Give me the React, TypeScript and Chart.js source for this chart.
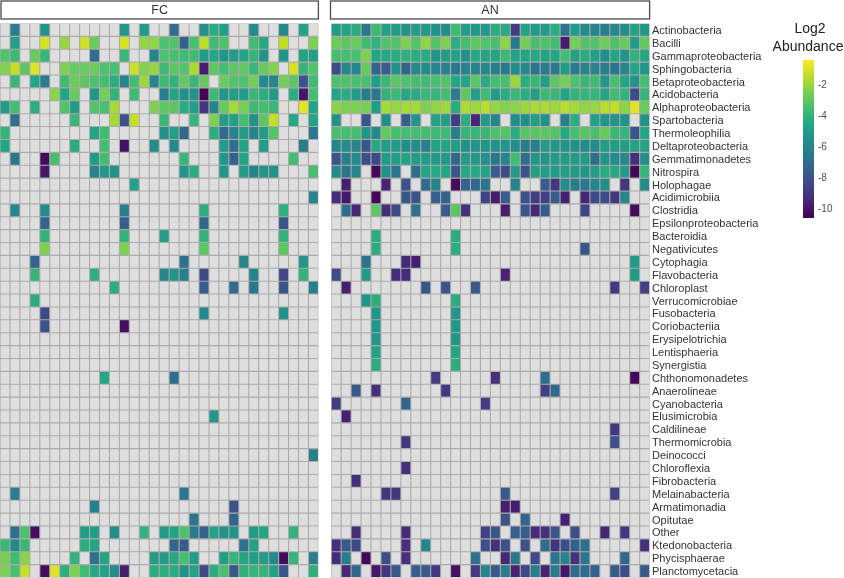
import React, { useEffect, useRef } from "react";
import { Chart, registerables } from "chart.js";

Chart.register(...registerables);

const categories = [
  "Actinobacteria", "Bacilli", "Gammaproteobacteria", "Sphingobacteria", "Betaproteobacteria", "Acidobacteria",
  "Alphaproteobacteria", "Spartobacteria", "Thermoleophilia", "Deltaproteobacteria", "Gemmatimonadetes", "Nitrospira",
  "Holophagae", "Acidimicrobiia", "Clostridia", "Epsilonproteobacteria", "Bacteroidia", "Negativicutes", "Cytophagia",
  "Flavobacteria", "Chloroplast", "Verrucomicrobiae", "Fusobacteria", "Coriobacteriia", "Erysipelotrichia",
  "Lentisphaeria", "Synergistia", "Chthonomonadetes", "Anaerolineae", "Cyanobacteria", "Elusimicrobia", "Caldilineae",
  "Thermomicrobia", "Deinococci", "Chloroflexia", "Fibrobacteria", "Melainabacteria", "Armatimonadia", "Opitutae",
  "Other", "Ktedonobacteria", "Phycisphaerae", "Planctomycetacia",
];

const columnCount = 32;
const panels = ["FC", "AN"];
const legendTicks = [-2, -4, -6, -8, -10];
const legendRange = [-10.58, -0.39];

const _ = null;

// Each row maps a column number to a log2 abundance; columns that are missing are empty cells.
const fcValues: Record<number, number>[] = [
  { 1: -6.3, 4: -5.3, 12: -5.2, 14: -5, 17: -7, 20: -5.5, 21: -4.2, 22: -4.8, 25: -5.7, 28: -5.8, 30: -4.7 },
  { 1: -4.8, 4: -1, 6: -2, 8: -1.1, 9: -2.7, 12: -1, 14: -2.1, 15: -2.1, 16: -3.3, 17: -3.2, 18: -7.5, 19: -3.4, 20: -1.5, 21: -3.6, 22: -3.3, 25: -3.6, 26: -4.4, 28: -1.4, 31: -2.4 },
  { 0: -3.2, 1: -3.7, 3: -2.8, 4: -3.8, 9: -7, 12: -3.8, 15: -6, 16: -3.3, 17: -3.4, 18: -3.6, 19: -3.6, 20: -5, 21: -4.5, 22: -5.2, 23: -5, 24: -4.5, 25: -3.9, 26: -5.3, 28: -5.3, 30: -4.6, 31: -4.8 },
  { 0: -2.3, 1: -1.3, 2: -3, 3: -0.9, 6: -2.4, 7: -2.8, 8: -2.8, 9: -2.7, 10: -3.3, 11: -3.4, 13: -1.2, 14: -2.3, 15: -2, 16: -3.7, 17: -3, 18: -3.2, 19: -1.7, 20: -9.8, 21: -3, 22: -3.5, 23: -3, 24: -2.9, 25: -3.8, 26: -2.8, 27: -2.3, 29: -1, 30: -3.9, 31: -3.2 },
  { 1: -3.8, 3: -4.5, 4: -6.3, 6: -3.6, 7: -2.7, 8: -3, 9: -3.3, 10: -3.5, 11: -4.2, 12: -6, 13: -3.5, 14: -1.9, 15: -5.9, 16: -3.7, 17: -4, 18: -2.9, 19: -3.8, 20: -2.8, 22: -2.7, 23: -3.2, 24: -3.3, 25: -2.6, 26: -5.7, 27: -6, 28: -2.6, 29: -3, 30: -8, 31: -3.6 },
  { 5: -2.2, 6: -4.6, 7: -2.8, 9: -5.2, 10: -2.6, 11: -4, 13: -3.6, 16: -6.3, 17: -4.7, 18: -5.5, 19: -5.4, 20: -10.5, 21: -3.7, 22: -5.2, 23: -4.9, 24: -5, 25: -3.8, 26: -4.2, 27: -5.1, 29: -4.2, 30: -10, 31: -3.5 },
  { 0: -5, 1: -3.5, 3: -4.2, 6: -3.2, 7: -5, 9: -3.2, 10: -3.4, 11: -1.8, 15: -2.4, 16: -3, 17: -3, 18: -4.3, 19: -4.8, 20: -9, 21: -6, 22: -2.8, 23: -1.8, 24: -2.5, 25: -3.7, 26: -3.5, 27: -3.8, 30: -0.8, 31: -4.6 },
  { 1: -6.8, 7: -3.8, 11: -1.8, 12: -8, 13: -1.3, 16: -3.8, 19: -3.9, 21: -2.4, 22: -5, 23: -4.8, 24: -3.5, 25: -5.4, 26: -3, 27: -1.3, 29: -4.4, 31: -4.6 },
  { 0: -4, 9: -4.6, 10: -3.6, 16: -5.5, 17: -4.8, 18: -7.2, 21: -4.2, 22: -7, 23: -6, 24: -5, 25: -6, 26: -5, 27: -3.2, 31: -6.5 },
  { 0: -4.6, 7: -4.3, 10: -3.5, 12: -10.1, 15: -5.6, 17: -5.8, 22: -5, 23: -7, 24: -4.6, 26: -5, 30: -6.3 },
  { 1: -6.6, 4: -10.3, 5: -3.4, 9: -5, 10: -3.5, 18: -3.8, 22: -5.2, 23: -7.4, 24: -4.6, 29: -3.5 },
  { 4: -9.9, 9: -6, 10: -5.2, 11: -5.4, 18: -5.3, 19: -4.3, 22: -5.3, 24: -5, 25: -6, 26: -5.2, 27: -5.4, 31: -3.4 },
  { 13: -4.7 },
  { 31: -6 },
  { 1: -5.8, 4: -5.7, 12: -6.2, 20: -4.2, 28: -4.1 },
  { 4: -7.2, 12: -7.5, 20: -7.2, 28: -7.8 },
  { 4: -4, 12: -4, 16: -4.9, 20: -4, 28: -4 },
  { 4: -2.4, 12: -2.4, 20: -3, 28: -3 },
  { 3: -7.3, 18: -6.8, 24: -5.9, 30: -5.2 },
  { 3: -3.9, 9: -4.1, 16: -6, 17: -5.2, 18: -6.2, 20: -8.3, 25: -6, 28: -8.4, 30: -4 },
  { 11: -4.2, 20: -7.6, 23: -7, 25: -6.5, 28: -7.9, 31: -6.2 },
  { 3: -4.3 },
  { 4: -8.4, 20: -5.8, 28: -5.5 },
  { 4: -8, 12: -10.2 },
  {},
  {},
  {},
  { 10: -4.5, 17: -7 },
  {},
  {},
  { 21: -5.2 },
  {},
  {},
  { 31: -6.2 },
  {},
  {},
  { 1: -6.3, 18: -6.6 },
  { 9: -6.2, 23: -8 },
  { 19: -6.6, 23: -7.4 },
  { 1: -6.8, 2: -3.3, 3: -10.2, 8: -4.9, 9: -4.8, 11: -5.6, 14: -4, 16: -5, 17: -4.6, 18: -3.3, 19: -6.4, 20: -7.4, 21: -4.6, 22: -5.4, 23: -5.4, 25: -5, 26: -4.5, 29: -4 },
  { 0: -3.8, 1: -5.8, 2: -3.8, 8: -4.2, 9: -4.6, 17: -7.2, 18: -7.6, 24: -6.8, 25: -4.7 },
  { 0: -2.5, 1: -3.6, 2: -2.2, 7: -4, 9: -6.8, 10: -4.6, 15: -4.9, 16: -4.9, 17: -4.4, 18: -3.4, 19: -4.9, 22: -4.9, 23: -3.9, 24: -4.6, 25: -5, 26: -5, 27: -5.8, 28: -10.3, 29: -3.9, 31: -6.3 },
  { 0: -2.4, 1: -3.4, 2: -1.3, 4: -10.3, 5: -0.9, 6: -4.2, 7: -2.4, 8: -3.6, 9: -4.4, 10: -4.7, 11: -5.6, 12: -9.8, 15: -4.2, 16: -4.2, 17: -4.3, 18: -5.4, 19: -4.6, 20: -8.4, 21: -4.3, 22: -3.4, 23: -7.7, 24: -4.1, 25: -3.9, 26: -3.9, 27: -4.7, 28: -7.9, 31: -4.1 },
];

const anValues: (Record<number, number> | (number | null)[])[] = [
  [-5, -4.7, -4.3, -6.5, -3.7, -4.7, -5, -5.4, -4.9, -5, -5.5, -5.7, -3.6, -5, -5.2, -5.1, -4.2, -4.3, -8.8, -4.6, -5, -5, -4.3, -6.7, -5, -5.7, -6, -6.2, -5.8, -5.6, -4.6, -5.2],
  [-2.7, -3, -2.8, -3.6, -4, -3.2, -3.2, -2.4, -3.2, -2.1, -3.2, -2.4, -4.2, -3.5, -3, -3.2, -3.4, -2.2, -6.5, -2.6, -3.4, -3.3, -3.5, -9.8, -2.6, -3.2, -3.2, -2.7, -3.3, -2.8, -5, -2.9],
  [-3.5, -3.5, -3.4, -2.4, -4.6, -4.4, -4.3, -4.1, -4.2, -4.3, -5.3, -5, -4.7, -5.5, -4.4, -4.6, -4.6, -3.7, -4.7, -4.6, -4.4, -4.7, -4.5, -3.5, -4.7, -4.3, -4.8, -5.7, -4.5, -5.3, -4, -4.5],
  [-8.2, -5.8, -5.9, -2.8, -7.3, -7.6, -5.5, -7.3, -5.8, -5.7, -5.9, -5.9, -6.5, -6, -6, -5.8, -6.2, -6.5, -5.6, -5.8, -6.6, -6.4, -6.5, -5, -6.4, -6, -6, -6.2, -6.6, -5.9, -4.5, -5.2],
  [-3.3, -3.3, -3.4, -3.4, -4.8, -3.8, -3, -3.3, -3.5, -3.6, -3.4, -3.2, -4.5, -4.5, -3, -4.3, -3.5, -3.4, -1.9, -4.2, -3.8, -4.8, -3, -2.5, -3.3, -3.8, -3.6, -5.2, -3.4, -4.6, -5.3, -3.4],
  [-4.5, -4.3, -5, -6.3, -6.5, -4, -3.7, -4.4, -4.3, -3.8, -3.9, -3.5, -6.4, -3, -4.8, -3.6, -5, -4.2, -3.8, -4.2, -4.8, -3.7, -3.8, -4.6, -4, -3.9, -3.9, -4.5, -3.6, -4, -8.3, -3.9],
  [-2.2, -2.4, -2.4, -2.5, -5, -1.8, -2, -1.8, -1.8, -2.4, -2.1, -1.9, -4.3, -1.7, -1.9, -1.5, -2, -2.3, -2.2, -1.9, -1.7, -1.7, -1.9, -1.5, -1.8, -2.1, -2, -1.5, -1.4, -2.2, -0.8, -2.8],
  [-5.4, _, _, -8, _, -5.6, _, -7.6, -5.3, _, -4.7, -4.9, -8.8, -4.2, -9.5, -5, -6, _, -5.6, -5.6, -4.9, -5.4, _, -6.2, -4.3, _, -4.8, -5.3, -5.4, -5.4, _, -5.4],
  [-3.4, -3.5, -3.5, -5.2, -5.8, -2.9, -3.5, -3.5, -3.5, -3.5, -3.7, -3.6, -6.3, -3.9, -3.9, -3.8, -3.3, -3.2, -4.3, -3.1, -3.1, -3, -3.2, -4.4, -3.4, -3.1, -3.4, -2.8, -3.8, -3.9, -7.8, -4.5],
  [-5.9, -5.6, -6, -7.9, -4.4, -5, -5, -5.6, -5.6, -6.2, -4.7, -4.7, -4.9, -5.5, -5.3, -5.3, -5.5, -5.3, -5.7, -6.4, -6.2, -5, -5.2, -5.4, -5.5, -5.7, -5.7, -5, -4.9, -4.9, -4.7, -4.7],
  [-7.9, -6.2, -5.7, -8.2, -8.4, -5, -5, -4.7, -4.9, -5, -5.1, -5.1, -7.2, -5, -5.1, -5.5, -6.6, -6, -3.6, -7, -5.2, -5.3, -5, -5, -5, -5, -7, -5.3, -5.7, -5.8, -9.2, -5.6],
  [-5.8, -6.6, -6, _, -10.4, -5.5, -6.6, _, -7, -4.6, -4.4, -4.5, -7.9, -4.4, -4.4, -4.6, -7.6, -8.2, -5, -8, -4.8, -4.8, -5, -4.8, -5.1, -5.2, -4.8, -4.3, -4.4, -5, -10.5, -3.9],
  [_, -9.7, _, _, _, -9.6, _, -8, _, -7, -6, _, -10.3, -7.4, -7.2, -6.6, _, _, -6, _, _, -7.6, -9, -5.7, -6.4, -6.6, -5.9, -5.6, _, -9, _, -5.7],
  { 0: -9.3, 1: -9.9, 4: -10.4, 7: -7.8, 8: -7.9, 10: -7.5, 11: -7.3, 15: -8.6, 16: -9.8, 17: -7.6, 19: -8, 20: -8.8, 21: -8.7, 22: -7.6, 23: -9.7, 25: -9.5, 26: -8.4, 27: -8.2, 28: -9, 29: -5.8 },
  { 1: -6.9, 2: -9.5, 4: -3, 5: -9.3, 6: -8.4, 8: -6.8, 11: -7.6, 12: -3, 13: -9.2, 17: -9.8, 19: -7.8, 20: -9.4, 21: -7.7, 25: -8.5, 30: -10.3 },
  {},
  { 4: -4.2, 12: -4.2 },
  { 4: -4.2, 12: -4.2, 25: -7.8 },
  { 3: -6.8, 7: -9.4, 8: -9.7, 30: -5.1 },
  { 0: -8.2, 3: -5, 6: -9.3, 7: -9.3, 17: -9.6, 30: -5 },
  { 1: -9.7, 9: -7.9, 11: -7.9, 14: -7.7, 28: -8.9, 31: -8.7 },
  { 3: -5.3, 4: -4.2, 12: -4.2 },
  { 4: -5.2, 12: -5.2 },
  { 4: -5.2, 12: -5.2 },
  { 4: -5.2, 12: -5.2 },
  { 4: -4.7, 12: -4.5 },
  { 4: -4.3, 12: -4.2 },
  { 10: -8.8, 16: -9.2, 21: -7, 30: -10.4 },
  { 2: -7.7, 4: -9.2, 11: -9, 21: -8.7, 22: -7.1 },
  { 0: -8.8, 7: -7.3, 15: -8.8 },
  { 1: -9.7 },
  { 28: -8.9 },
  { 7: -9, 28: -8 },
  {},
  { 7: -9.2 },
  { 2: -9.2 },
  { 5: -9, 6: -9, 17: -7.7, 28: -8.7 },
  { 17: -9.7, 18: -9.8 },
  { 17: -8, 19: -7.3, 23: -9.7 },
  { 2: -9.3, 7: -9.3, 15: -8.6, 16: -7.8, 18: -7.5, 19: -7.6, 20: -9.3, 21: -9.2, 22: -7.8, 24: -8.2, 27: -9.5, 29: -9 },
  { 0: -9.2, 1: -7.7, 2: -8.3, 7: -9.2, 9: -5.9, 15: -8.1, 16: -9.1, 17: -8, 19: -8, 21: -7, 22: -9.1, 23: -8.2, 24: -7.5, 25: -6.8, 31: -9.2 },
  { 0: -9.3, 1: -6.2, 3: -10.4, 5: -8.2, 7: -9.2, 14: -6.8, 17: -9.5, 18: -6.5, 20: -8.4, 22: -6.6, 23: -6, 24: -9.2, 25: -6.6, 29: -7.2 },
  { 1: -9.4, 2: -7.2, 4: -9.9, 5: -9, 6: -7.8, 8: -7.6, 9: -7.7, 10: -8.9, 12: -10.1, 14: -8.9, 15: -6, 16: -7.8, 17: -6.3, 18: -9.6, 19: -8.4, 20: -6.2, 21: -9.6, 22: -6.4, 23: -10, 24: -7, 25: -7, 26: -7.5, 28: -7.7, 29: -8.2, 31: -7.7 },
];

const viridis = [
  [68, 1, 84], [72, 36, 117], [65, 68, 135], [53, 95, 141], [42, 120, 142], [33, 145, 140],
  [34, 168, 132], [68, 191, 112], [122, 209, 81], [189, 223, 38], [253, 231, 37],
];

function colourAt(t: number) {
  const p = Math.max(0, Math.min(1, t)) * (viridis.length - 1);
  const i = Math.min(viridis.length - 2, Math.floor(p));
  const f = p - i;
  const c = viridis[i].map((a, k) => Math.round(a + (viridis[i + 1][k] - a) * f));
  return `rgb(${c[0]},${c[1]},${c[2]})`;
}

function valueColour(v: number | null | undefined) {
  if (v === null || v === undefined) return "#dedede";
  return colourAt((v - legendRange[0]) / (legendRange[1] - legendRange[0]));
}

const CELL_W = 9.95;
const AN_OFFSET = 331.2 / CELL_W;
const X_MAX = 650 / CELL_W;
const CELL_INSET = 0.055;
const FONT = '"Liberation Sans", Arial, sans-serif';
const SPANS = [[0, columnCount], [AN_OFFSET, AN_OFFSET + columnCount]];

const panelBackground = {
  id: "panelBackground",
  beforeDatasetsDraw(chart: any) {
    const { ctx, chartArea } = chart;
    const x = chart.scales.x;
    ctx.save();
    ctx.fillStyle = "#ababab";
    SPANS.forEach(([a, b]) => {
      const l = x.getPixelForValue(a);
      const r = x.getPixelForValue(b);
      ctx.fillRect(l, chartArea.top, r - l, chartArea.bottom - chartArea.top);
    });
    ctx.restore();
  },
};

const decor = {
  id: "decor",
  afterDraw(chart: any) {
    const { ctx } = chart;
    const x = chart.scales.x;
    ctx.save();
    // panel strips
    panels.forEach((name, i) => {
      const l = Math.max(1, x.getPixelForValue(SPANS[i][0]) - 0.7);
      const r = x.getPixelForValue(SPANS[i][1]);
      ctx.fillStyle = "#ffffff";
      ctx.strokeStyle = "#4a4a4a";
      ctx.lineWidth = 1.3;
      ctx.fillRect(l, 1, r - l, 18);
      ctx.strokeRect(l, 1, r - l, 18);
      ctx.fillStyle = "#333333";
      ctx.font = `12.5px ${FONT}`;
      ctx.textAlign = "center";
      ctx.textBaseline = "middle";
      ctx.fillText(name, (l + r) / 2, 10.5);
    });
    // legend
    ctx.fillStyle = "#222222";
    ctx.font = `14px ${FONT}`;
    ctx.textAlign = "center";
    ctx.textBaseline = "middle";
    ctx.fillText("Log2", 810, 29);
    ctx.fillText("Abundance", 808, 47);
    const top = 60, bottom = 218, left = 803, right = 814;
    const grad = ctx.createLinearGradient(0, bottom, 0, top);
    for (let i = 0; i < viridis.length; i++) grad.addColorStop(i / (viridis.length - 1), colourAt(i / (viridis.length - 1)));
    ctx.fillStyle = grad;
    ctx.fillRect(left, top, right - left, bottom - top);
    ctx.font = `10px ${FONT}`;
    ctx.textAlign = "left";
    ctx.fillStyle = "#4d4d4d";
    legendTicks.forEach((t) => {
      const y = bottom - ((t - legendRange[0]) / (legendRange[1] - legendRange[0])) * (bottom - top);
      ctx.fillText(String(t), 818, y);
    });
    ctx.restore();
  },
};

function panelDatasets(rows: any[], offset: number) {
  const out: any[] = [];
  for (let c = 0; c < columnCount; c++) {
    out.push({
      data: rows.map(() => [offset + c + CELL_INSET, offset + c + 1 - CELL_INSET]),
      backgroundColor: rows.map((r) => valueColour(r[c])),
      borderWidth: 0,
      inflateAmount: 0,
      barPercentage: 0.915,
      categoryPercentage: 1,
      grouped: false,
    });
  }
  return out;
}

export default function App() {
  const ref = useRef<HTMLCanvasElement>(null);
  useEffect(() => {
    const chart = new Chart(ref.current!, {
      type: "bar",
      data: {
        labels: categories,
        datasets: [...panelDatasets(fcValues, 0), ...panelDatasets(anValues, AN_OFFSET)],
      },
      plugins: [panelBackground, decor],
      options: {
        indexAxis: "y",
        animation: false,
        responsive: false,
        layout: { padding: { top: 23.5, bottom: 0.5, left: 0, right: 0 } },
        plugins: { legend: { display: false }, tooltip: { enabled: false } },
        scales: {
          x: { type: "linear", min: 0, max: X_MAX, display: false, grid: { display: false } },
          y: {
            type: "category",
            position: "right",
            grid: { display: false, drawTicks: false },
            border: { display: false },
            ticks: {
              autoSkip: false,
              padding: 2,
              labelOffset: 1,
              color: "#333333",
              font: { family: FONT, size: 11 },
              maxRotation: 0,
            },
            afterFit(scale: any) {
              scale.width = 194;
              scale.paddingTop = 0;
              scale.paddingBottom = 0;
            },
          },
        },
      } as any,
    });
    return () => chart.destroy();
  }, []);
  return (
    <div style={{ position: "fixed", left: 0, top: 0, width: 844, height: 578, background: "#fff" }}>
      <canvas ref={ref} width={844} height={578} style={{ display: "block", filter: "blur(0.4px)" }} />
    </div>
  );
}
